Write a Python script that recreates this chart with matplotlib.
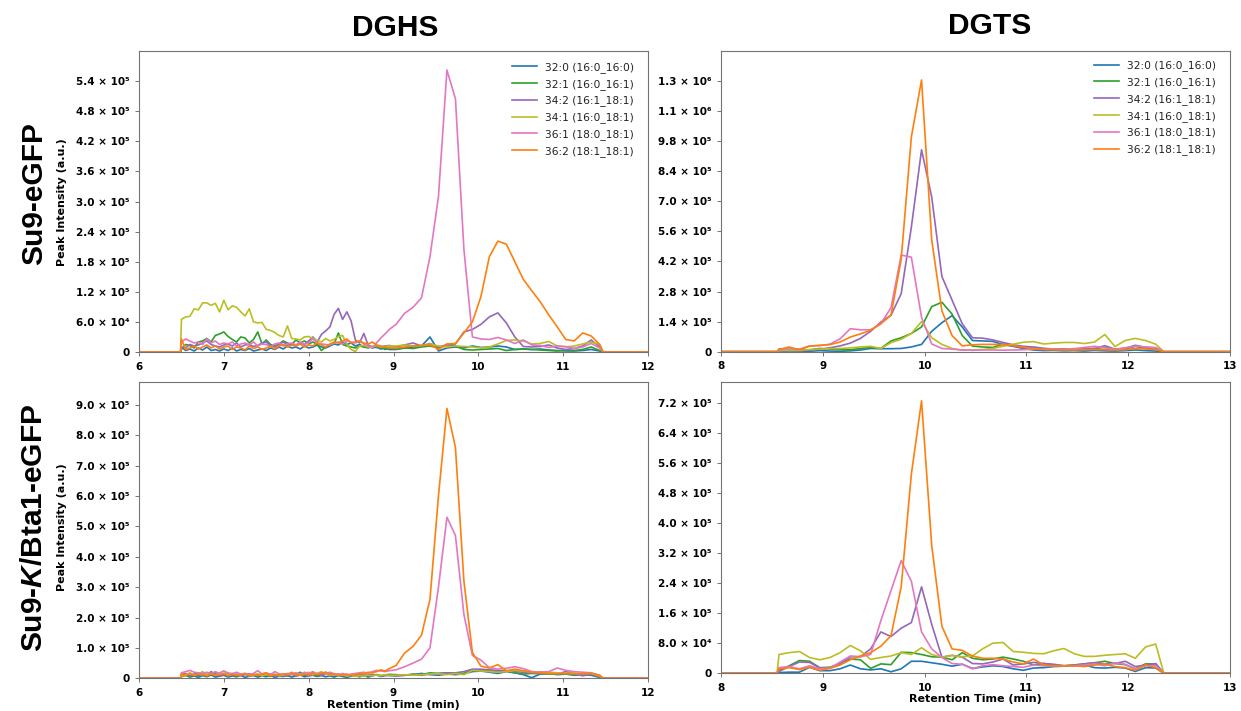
import numpy as np
import matplotlib
matplotlib.use("Agg")
import matplotlib.pyplot as plt

plt.rcParams['font.family'] = ['DejaVu Sans']
plt.rcParams['font.weight'] = 'bold'
plt.rcParams['mathtext.fontset'] = 'custom'
plt.rcParams['mathtext.it'] = 'Liberation Sans:italic:bold'
plt.rcParams['mathtext.rm'] = 'Liberation Sans:bold'
plt.rcParams['mathtext.bf'] = 'Liberation Sans:bold'

# ---------------- data ----------------
labels = ["32:0 (16:0_16:0)", "32:1 (16:0_16:1)", "34:2 (16:1_18:1)",
          "34:1 (16:0_18:1)", "36:1 (18:0_18:1)", "36:2 (18:1_18:1)"]
colors = ["#1f77b4", "#2ca02c", "#9467bd", "#bcbd22", "#e377c2", "#ff7f0e"]

# retention time grids (min)
t_dghs = [6.50, 6.55, 6.60, 6.65, 6.70, 6.75, 6.80, 6.85, 6.90, 6.95,
          7.00, 7.05, 7.10, 7.15, 7.20, 7.25, 7.30, 7.35, 7.40, 7.45,
          7.50, 7.55, 7.60, 7.65, 7.70, 7.75, 7.80, 7.85, 7.90, 7.95,
          8.00, 8.05, 8.10, 8.15, 8.20, 8.25, 8.30, 8.35, 8.40, 8.45,
          8.50, 8.55, 8.60, 8.65, 8.70, 8.75, 8.80, 8.85, 8.90, 8.95,
          9.03, 9.13, 9.23, 9.33, 9.43, 9.53, 9.63, 9.73, 9.83, 9.93,
          10.03, 10.13, 10.23, 10.33, 10.43, 10.53, 10.63, 10.73, 10.83, 10.93,
          11.03, 11.13, 11.23, 11.33, 11.43]
t_dgts = [8.57, 8.67, 8.77, 8.87, 8.97, 9.07, 9.17, 9.27, 9.37, 9.47,
          9.57, 9.67, 9.77, 9.87, 9.97, 10.07, 10.17, 10.27, 10.37, 10.47,
          10.57, 10.67, 10.77, 10.87, 10.97, 11.07, 11.17, 11.27, 11.37, 11.47,
          11.57, 11.67, 11.77, 11.87, 11.97, 12.07, 12.17, 12.27]

# DGHS, Su9-eGFP (peak intensity, thousands)
dghs_wt_320 = [10, 3, 6, 2, 8, 4, 10, 3, 5, 2, 6, 3, 8, 2, 5, 3, 7, 2, 4, 6,
               3, 8, 5, 10, 6, 12, 8, 10, 6, 12, 8, 10, 14, 10, 8, 12, 16, 14, 20, 15,
               18, 12, 15, 10, 12, 8, 10, 6, 8, 5,
               5, 8, 10, 12, 30, 2, 8, 10, 8, 12, 9, 10, 12, 10, 5, 6, 5, 6, 4, 3,
               2, 2, 3, 5, 2]
dghs_wt_321 = [5, 15, 13, 8, 20, 22, 27, 20, 33, 36, 40, 31, 25, 20, 30, 28, 18, 25, 40, 16,
               24, 15, 12, 16, 22, 18, 15, 24, 18, 22, 16, 20, 15, 3, 10, 15, 16, 38, 15, 12,
               10, 8, 12, 10, 8, 11, 9, 10, 5, 8,
               6, 8, 7, 10, 12, 8, 15, 12, 5, 4, 5, 6, 7, 3, 5, 6, 5, 4, 3, 2,
               4, 3, 5, 10, 3]
dghs_wt_342 = [10, 8, 15, 12, 14, 18, 22, 15, 12, 10, 14, 16, 12, 18, 10, 14, 15, 11, 13, 18,
               20, 12, 10, 15, 20, 14, 16, 12, 18, 15, 22, 30, 20, 35, 42, 50, 75, 87, 65, 80,
               62, 24, 18, 37, 14, 10, 12, 10, 12, 13,
               10, 14, 18, 12, 17, 10, 14, 16, 40, 45, 55, 70, 78, 58, 30, 11, 10, 11, 14, 8,
               5, 7, 12, 24, 10]
dghs_wt_341 = [65, 70, 71, 86, 84, 98, 98, 93, 97, 80, 103, 84, 92, 89, 80, 72, 86, 60, 58, 59,
               45, 43, 39, 33, 30, 52, 27, 26, 24, 30, 31, 27, 23, 20, 27, 22, 25, 31, 33, 15,
               5, 1, 12, 13, 10, 11, 13, 10, 11, 12,
               12, 14, 12, 13, 16, 12, 10, 12, 11, 10, 8, 10, 16, 23, 24, 22, 16, 17, 21, 12,
               10, 12, 16, 20, 15]
dghs_wt_361 = [20, 26, 22, 18, 20, 15, 26, 18, 22, 15, 18, 16, 20, 12, 16, 18, 14, 20, 12, 16,
               15, 10, 16, 18, 12, 16, 18, 14, 20, 15, 18, 26, 18, 16, 15, 14, 18, 20, 16, 22,
               20, 18, 22, 16, 12, 8, 18, 28, 36, 45,
               55, 77, 89, 108, 190, 310, 562, 505, 205, 30, 26, 25, 29, 24, 17, 24, 14, 13, 9, 12,
               11, 7, 10, 17, 8]
dghs_wt_362 = [26, 5, 8, 12, 6, 10, 14, 8, 12, 6, 10, 12, 5, 10, 8, 4, 12, 7, 10, 5,
               8, 11, 6, 12, 15, 10, 14, 12, 16, 10, 14, 12, 18, 14, 10, 16, 20, 18, 22, 26,
               18, 20, 22, 18, 16, 20, 14, 12, 10, 8,
               8, 10, 12, 13, 15, 5, 16, 17, 38, 60, 110, 190, 221, 215, 180, 145, 122, 100, 74, 50,
               25, 22, 38, 32, 15]

# DGHS, Su9-K/Bta1-eGFP
dghs_kb_320 = [5, 10, 4, 8, 3, 9, 5, 11, 4, 7, 10, 4, 8, 5, 10, 3, 7, 9, 4, 8,
               5, 10, 3, 7, 6, 9, 4, 8, 11, 5, 8, 10, 6, 9, 5, 8, 4, 9, 6, 3,
               7, 9, 5, 10, 4, 8, 12, 6, 9, 10,
               8, 10, 12, 16, 12, 10, 14, 12, 15, 22, 24, 20, 16, 22, 18, 12, 2, 14, 16, 12,
               14, 10, 12, 10, 3]
dghs_kb_321 = [8, 14, 6, 12, 9, 16, 7, 12, 18, 8, 13, 10, 16, 6, 11, 14, 8, 12, 7, 15,
               10, 6, 12, 9, 14, 8, 16, 12, 20, 10, 14, 18, 8, 12, 20, 10, 14, 8, 12, 6,
               10, 13, 8, 11, 7, 10, 12, 9, 11, 13,
               12, 10, 14, 12, 18, 16, 18, 14, 16, 28, 26, 24, 22, 25, 18, 14, 16, 15, 14, 16,
               15, 12, 14, 12, 5]
dghs_kb_342 = [12, 16, 9, 14, 18, 10, 12, 22, 14, 9, 12, 16, 10, 14, 8, 12, 15, 10, 13, 8,
               11, 14, 9, 12, 7, 10, 13, 8, 10, 14, 9, 12, 16, 10, 13, 18, 11, 14, 9, 12,
               10, 12, 14, 9, 11, 13, 10, 8, 10, 9,
               8, 10, 12, 10, 14, 16, 18, 18, 22, 30, 30, 28, 26, 24, 22, 20, 18, 16, 18, 14,
               22, 16, 8, 14, 5]
dghs_kb_341 = [6, 12, 18, 10, 14, 22, 12, 16, 10, 18, 24, 12, 15, 10, 13, 16, 9, 12, 15, 8,
               12, 10, 14, 8, 11, 15, 12, 18, 10, 14, 20, 12, 16, 22, 14, 10, 14, 8, 12, 7,
               10, 6, 9, 7, 10, 8, 11, 9, 12, 10,
               10, 12, 10, 12, 14, 15, 12, 16, 12, 26, 24, 22, 20, 22, 26, 24, 20, 22, 20, 18,
               16, 18, 15, 16, 8]
dghs_kb_361 = [18, 22, 26, 20, 18, 16, 20, 14, 22, 16, 24, 18, 15, 20, 14, 16, 12, 16, 25, 14,
               18, 12, 22, 15, 12, 16, 14, 18, 12, 20, 16, 22, 14, 18, 16, 20, 15, 12, 16, 10,
               14, 16, 18, 20, 16, 22, 26, 24, 22, 25,
               28, 38, 50, 63, 100, 300, 530, 470, 210, 75, 60, 35, 30, 33, 38, 32, 22, 20, 22, 34,
               26, 22, 20, 18, 10]
dghs_kb_362 = [15, 8, 16, 10, 14, 12, 8, 15, 10, 12, 16, 8, 14, 10, 12, 15, 8, 12, 10, 14,
               18, 8, 12, 10, 15, 12, 20, 10, 12, 14, 10, 18, 12, 16, 20, 12, 15, 10, 12, 14,
               10, 12, 16, 14, 20, 18, 22, 28, 24, 32,
               42, 83, 105, 142, 260, 600, 888, 760, 320, 85, 40, 34, 45, 25, 30, 25, 20, 18, 16, 15,
               16, 14, 16, 17, 10]

# DGTS, Su9-eGFP
dgts_wt_320 = [2, 4, 3, 2, 5, 3, 2, 4, 8, 15, 14, 14, 15, 22, 34, 95, 135, 168, 115, 52,
               50, 48, 33, 25, 15, 8, 5, 6, 4, 5, 3, 6, 4, 3, 5, 8, 5, 3]
dgts_wt_321 = [12, 15, 10, 8, 15, 12, 10, 9, 15, 20, 15, 50, 65, 85, 115, 210, 230, 175, 75, 26,
               22, 20, 35, 30, 20, 15, 12, 13, 10, 9, 10, 15, 20, 10, 12, 25, 15, 10]
dgts_wt_342 = [3, 6, 4, 8, 12, 18, 27, 40, 62, 95, 138, 170, 270, 580, 940, 720, 350, 240, 130, 65,
               63, 55, 43, 32, 25, 22, 16, 12, 13, 10, 14, 15, 28, 12, 16, 30, 20, 18]
dgts_wt_341 = [5, 8, 6, 10, 12, 14, 15, 18, 22, 25, 15, 42, 58, 85, 140, 65, 34, 15, 7, 8,
               10, 15, 25, 35, 44, 47, 36, 40, 43, 43, 38, 45, 80, 24, 52, 62, 52, 35]
dgts_wt_361 = [8, 16, 12, 27, 28, 35, 60, 107, 102, 102, 130, 205, 450, 440, 160, 36, 15, 12, 8, 7,
               8, 8, 7, 8, 9, 12, 11, 13, 10, 14, 20, 25, 18, 11, 18, 26, 22, 19]
dgts_wt_362 = [10, 22, 8, 26, 30, 33, 45, 68, 83, 100, 130, 170, 430, 1000, 1265, 520, 190, 75, 27, 32,
               34, 34, 33, 28, 20, 14, 10, 9, 8, 8, 9, 10, 9, 8, 9, 15, 13, 10]

# DGTS, Su9-K/Bta1-eGFP
dgts_kb_320 = [2, 3, 3, 16, 7, 7, 12, 22, 12, 9, 12, 4, 12, 32, 32, 28, 24, 19, 24, 13,
               17, 20, 18, 12, 8, 14, 15, 18, 19, 20, 22, 15, 14, 16, 14, 5, 15, 14]
dgts_kb_321 = [8, 20, 34, 32, 15, 16, 26, 38, 36, 13, 25, 23, 56, 55, 50, 44, 43, 36, 55, 40,
               36, 38, 43, 38, 32, 22, 26, 22, 20, 22, 25, 28, 32, 26, 23, 12, 25, 25]
dgts_kb_342 = [5, 18, 30, 29, 14, 15, 25, 44, 44, 65, 110, 98, 120, 135, 230, 130, 43, 48, 43, 26,
               25, 30, 38, 22, 25, 29, 26, 24, 20, 22, 25, 28, 25, 26, 32, 18, 22, 26]
dgts_kb_341 = [50, 55, 58, 42, 36, 42, 55, 74, 60, 37, 42, 46, 55, 50, 68, 50, 43, 47, 44, 46,
               65, 80, 82, 58, 56, 53, 52, 60, 66, 52, 45, 45, 48, 50, 52, 40, 70, 78]
dgts_kb_361 = [15, 18, 12, 20, 12, 14, 30, 46, 44, 50, 140, 220, 300, 245, 110, 65, 42, 26, 24, 12,
               20, 23, 20, 18, 16, 22, 20, 20, 20, 20, 22, 25, 20, 28, 24, 12, 20, 20]
dgts_kb_362 = [12, 15, 10, 16, 8, 13, 22, 36, 46, 55, 72, 100, 230, 530, 725, 340, 125, 65, 61, 46,
               40, 40, 38, 30, 25, 38, 22, 20, 20, 20, 18, 22, 25, 18, 15, 8, 22, 15]

# axis tick settings
dghs_xticks = [6, 7, 8, 9, 10, 11, 12]
dgts_xticks = [8, 9, 10, 11, 12, 13]

# ---------------- drawing ----------------
SUP = str.maketrans("0123456789-", "⁰¹²³⁴⁵⁶⁷⁸⁹⁻")


def sci(v, pos=None):
    if abs(v) < 1e-9:
        return "0"
    e = int(np.floor(np.log10(abs(v)) + 1e-9))
    m = round(v / 10 ** e, 1)
    if m >= 10:
        m /= 10
        e += 1
    return f"{m:.1f} × 10{str(e).translate(SUP)}"


W, H = 1241, 711
fig = plt.figure(figsize=(W / 100, H / 100), dpi=100)
fig.patch.set_facecolor("white")


def add_ax(left, right, top, bottom):
    return fig.add_axes([left / W, 1 - bottom / H, (right - left) / W, (bottom - top) / H])


def panel(ax, t, series, lead, tail, xticks, ytop, ystep, nyt, legend, leg_anchor):
    x = [xticks[0], lead] + list(t) + [tail, xticks[-1]]
    for vals, c, lab in zip(series, colors, labels):
        y = [0, 0] + [v * 1000 for v in vals] + [0, 0]
        ax.plot(x, y, color=c, lw=1.2, label=lab)
    ax.set_xlim(xticks[0], xticks[-1])
    ax.set_ylim(0, ytop)
    ax.set_xticks(xticks)
    ax.set_yticks([k * ystep for k in range(nyt)])
    ax.yaxis.set_major_formatter(plt.FuncFormatter(sci))
    ax.tick_params(axis="both", labelsize=7.5, length=3, width=0.7, color="0.45", pad=4)
    for lbl in ax.get_xticklabels() + ax.get_yticklabels():
        lbl.set_fontweight("bold")
    for s in ax.spines.values():
        s.set_color("0.45")
        s.set_linewidth(0.8)
    if legend:
        ax.legend(loc="upper right", bbox_to_anchor=leg_anchor, frameon=False,
                  prop={"size": 7.7, "weight": "normal"}, handlelength=2.4,
                  handletextpad=0.7, labelspacing=0.55, borderaxespad=0.2,
                  labelcolor="#222222")


ax_tl = add_ax(139, 648, 51, 352)
ax_tr = add_ax(721, 1230, 51, 351.7)
ax_bl = add_ax(139, 648, 382, 678.3)
ax_br = add_ax(721, 1230, 382, 673.3)

panel(ax_tl, t_dghs, [dghs_wt_320, dghs_wt_321, dghs_wt_342, dghs_wt_341, dghs_wt_361, dghs_wt_362],
      6.49, 11.47, dghs_xticks, 6.0e5, 6.0e4, 10, True, (0.985, 0.985))
panel(ax_tr, t_dgts, [dgts_wt_320, dgts_wt_321, dgts_wt_342, dgts_wt_341, dgts_wt_361, dgts_wt_362],
      8.55, 12.35, dgts_xticks, 1.4e6, 1.4e5, 10, True, (0.985, 0.99))
panel(ax_bl, t_dghs, [dghs_kb_320, dghs_kb_321, dghs_kb_342, dghs_kb_341, dghs_kb_361, dghs_kb_362],
      6.49, 11.47, dghs_xticks, 9.75e5, 1.0e5, 10, False, None)
panel(ax_br, t_dgts, [dgts_kb_320, dgts_kb_321, dgts_kb_342, dgts_kb_341, dgts_kb_361, dgts_kb_362],
      8.55, 12.35, dgts_xticks, 7.75e5, 8.0e4, 10, False, None)


def ftext(x, y, s, **kw):
    fig.text(x / W, 1 - y / H, s, **kw)


big = dict(fontfamily="Liberation Sans", fontweight="bold", fontsize=21.5,
           ha="center", va="center")
ftext(395, 28, "DGHS", **big)
ftext(990, 26, "DGTS", **big)
ftext(34, 194, "Su9-eGFP", rotation=90, **big)
ftext(34, 528, r"Su9-$\mathit{K}$/Bta1-eGFP", rotation=90, **big)

small = dict(fontsize=8, fontweight="bold", ha="center", va="center")
ftext(62, 202, "Peak Intensity (a.u.)", rotation=90, **small)
ftext(62, 527, "Peak Intensity (a.u.)", rotation=90, **small)
ftext(393, 705, "Retention Time (min)", **small)
ftext(975, 699, "Retention Time (min)", **small)

fig.savefig("out.png", dpi=100, facecolor="white")
